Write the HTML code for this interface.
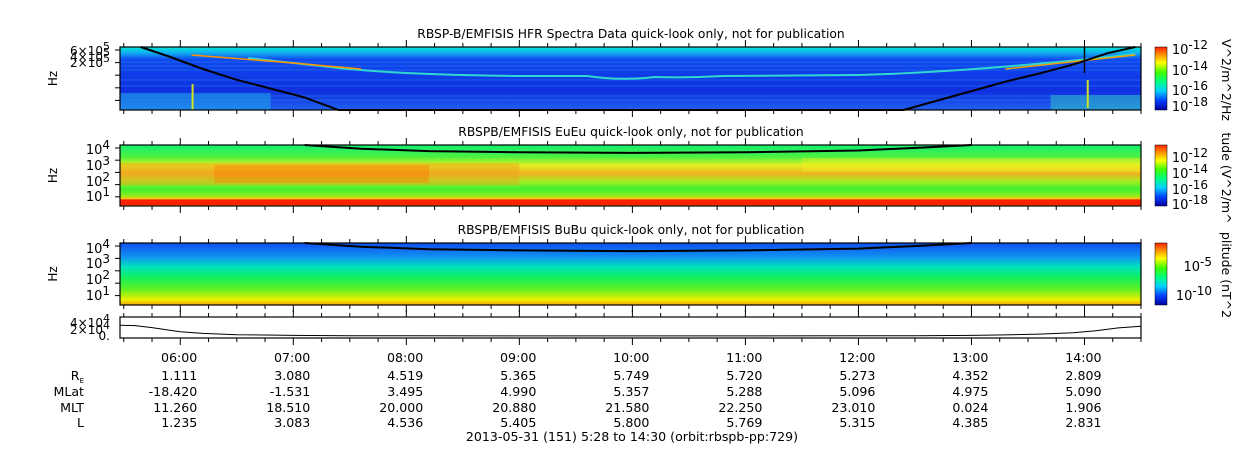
<!DOCTYPE html>
<html><head><meta charset="utf-8">
<style>
body{margin:0;background:#fff;}
svg{display:block;font-family:"DejaVu Sans","Liberation Sans",sans-serif;}
</style></head>
<body>
<svg id="c" width="1250" height="449" xmlns="http://www.w3.org/2000/svg">
<defs>
<linearGradient id="cmap" x1="0" y1="1" x2="0" y2="0">
<stop offset="0" stop-color="#0000a0"/><stop offset="0.15" stop-color="#0040ff"/><stop offset="0.3" stop-color="#00d0ff"/><stop offset="0.45" stop-color="#00ff80"/><stop offset="0.6" stop-color="#40ff00"/><stop offset="0.75" stop-color="#ffff00"/><stop offset="0.88" stop-color="#ff9000"/><stop offset="1" stop-color="#ff2000"/>
</linearGradient>
<linearGradient id="g1" x1="0" y1="0" x2="0" y2="1">
<stop offset="0" stop-color="#00e8d8"/><stop offset="0.09" stop-color="#10b0f0"/><stop offset="0.2" stop-color="#1048f0"/><stop offset="0.7" stop-color="#1030e0"/><stop offset="1" stop-color="#2060f0"/>
</linearGradient>
<linearGradient id="g2" x1="0" y1="0" x2="0" y2="1">
<stop offset="0" stop-color="#10f070"/><stop offset="0.2" stop-color="#50f040"/><stop offset="0.33" stop-color="#e0f020"/><stop offset="0.47" stop-color="#f0b020"/><stop offset="0.6" stop-color="#a0f020"/><stop offset="0.72" stop-color="#40f030"/><stop offset="0.82" stop-color="#80f020"/><stop offset="0.88" stop-color="#f0d010"/><stop offset="0.9" stop-color="#ff2000"/><stop offset="0.98" stop-color="#ff2000"/><stop offset="1" stop-color="#f0d010"/>
</linearGradient>
<linearGradient id="g3" x1="0" y1="0" x2="0" y2="1">
<stop offset="0" stop-color="#1050f0"/><stop offset="0.22" stop-color="#1090f0"/><stop offset="0.38" stop-color="#00e0c0"/><stop offset="0.55" stop-color="#10f060"/><stop offset="0.75" stop-color="#60f020"/><stop offset="0.92" stop-color="#f0f000"/><stop offset="1" stop-color="#f0a000"/>
</linearGradient>
</defs>
<g id="root"></g>
</svg>
<script>
const tStart = 5 + 28/60, tEnd = 14.5;
const tickHours = [6,7,8,9,10,11,12,13,14];
const tickLabels = ["06:00","07:00","08:00","09:00","10:00","11:00","12:00","13:00","14:00"];
const reVals = ["1.111","3.080","4.519","5.365","5.749","5.720","5.273","4.352","2.809"];
const mlatVals = ["-18.420","-1.531","3.495","4.990","5.357","5.288","5.096","4.975","5.090"];
const mltVals = ["11.260","18.510","20.000","20.880","21.580","22.250","23.010","0.024","1.906"];
const lVals = ["1.235","3.083","4.536","5.405","5.800","5.769","5.315","4.385","2.831"];
const lineHours = [5.47,5.6,5.75,5.9,6.0,6.2,6.5,7.0,7.5,8,9,10,11,12,12.5,13,13.3,13.6,13.9,14.1,14.3,14.5];
const lineVals  = [3.3,3.2,2.6,1.8,1.3,0.8,0.4,0.2,0.1,0.05,0.02,0.02,0.02,0.05,0.1,0.2,0.35,0.6,1.0,1.6,2.5,3.0];
const curve1Hours = [5.65,5.9,6.2,6.5,6.8,7.1,7.4,12.4,12.7,13.0,13.3,13.6,13.9,14.2,14.45];
const curve1Frac  = [0,0.15,0.35,0.52,0.66,0.8,1.0,1.0,0.85,0.7,0.55,0.42,0.28,0.1,0];
const curve2Hours = [7.1,7.6,8.2,9,10,11,12,12.6,13.0];
const curve2Frac  = [0,0.06,0.1,0.12,0.13,0.12,0.09,0.04,0];

const X0=120, X1=1141;
const xs = h => X0 + (h - tStart)/(tEnd - tStart)*(X1 - X0);
const root = document.getElementById('root');
const NS="http://www.w3.org/2000/svg";
function el(tag, attrs, parent){const e=document.createElementNS(NS,tag);for(const k in attrs)e.setAttribute(k,attrs[k]);(parent||root).appendChild(e);return e;}
function txt(x,y,s,anchor,size,parent){const t=el('text',{x:x,y:y,'font-size':size||11,'text-anchor':anchor||'start',fill:'#000'},parent);t.textContent=s;return t;}

const panels=[{y:47,h:63,f:'url(#g1)',title:'RBSP-B/EMFISIS  HFR Spectra Data quick-look only, not for publication'},
{y:145,h:61,f:'url(#g2)',title:'RBSPB/EMFISIS  EuEu quick-look only, not for publication'},
{y:243,h:62,f:'url(#g3)',title:'RBSPB/EMFISIS  BuBu quick-look only, not for publication'}];
panels.forEach((p,i)=>{
  const g=el('g',{});
  
  
  el('rect',{x:X0,y:p.y,width:X1-X0,height:p.h,fill:p.f},g);
  const t=txt(631,p.y-9,p.title,'middle',12.3,g);
  t.setAttribute('xml:space','preserve');
  
  
  const yl=txt(0,0,'Hz','middle',12,g);
  yl.setAttribute('transform','translate(57,'+(p.y+p.h/2)+') rotate(-90)');
  
  
  const cb=el('rect',{x:1155,y:p.y,width:12,height:p.h,fill:'url(#cmap)',stroke:'#000','stroke-width':0.5},g);
  
  
});
{
  const g=el('g',{});
  
  
  el('rect',{x:X0,y:93,width:xs(6.8)-X0,height:17,fill:'#20b0e8',opacity:0.5},g);
  el('rect',{x:xs(13.7),y:95,width:X1-xs(13.7),height:15,fill:'#30d0c0',opacity:0.5},g);
  [62,66,70,80,86,96,100].forEach(y=>el('line',{x1:X0,y1:y,x2:X1,y2:y,stroke:'#2090f0','stroke-width':0.8,opacity:0.6},g));
  el('path',{d:`M${xs(6.6)},58 L${xs(7.4)},68 Q${xs(8)},75 ${xs(9)},76 L${xs(9.6)},76 Q${xs(9.9)},81 ${xs(10.2)},77 Q${xs(10.5)},78 ${xs(10.8)},76 L${xs(12)},75 Q${xs(13)},72 ${xs(14.45)},54`,stroke:'#30d8d0','stroke-width':2,fill:'none'},g);
  el('path',{d:`M${xs(6.1)},55 L${xs(7.0)},63 L${xs(7.6)},69`,stroke:'#ff9000','stroke-width':1.5,fill:'none'},g);
  el('path',{d:`M${xs(13.3)},69 L${xs(14.45)},55`,stroke:'#f0a000','stroke-width':1.5,fill:'none'},g);
  el('rect',{x:xs(6.1),y:84,width:2,height:26,fill:'#d0e020'},g);
  el('rect',{x:xs(14.02),y:80,width:2,height:28,fill:'#d0e020'},g);
  el('line',{x1:xs(14.0),y1:47,x2:xs(14.0),y2:73,stroke:'#000','stroke-width':1.5},g);
}
{
  const g=el('g',{});
  
  
  el('rect',{x:X0,y:163,width:xs(9.0)-X0,height:22,fill:'#f0a020',opacity:0.45},g);
  el('rect',{x:xs(6.3),y:165,width:xs(8.2)-xs(6.3),height:18,fill:'#ff7000',opacity:0.35},g);
  el('rect',{x:xs(11.5),y:158,width:X1-xs(11.5),height:14,fill:'#f0f020',opacity:0.4},g);
}
function drawCurve(hours,frac,py,ph,name){
  let d='';hours.forEach((h,i)=>{d+=(i?'L':'M')+xs(h).toFixed(1)+','+(py+frac[i]*ph).toFixed(1);});
  const p=el('path',{d:d,stroke:'#000','stroke-width':2,fill:'none'});
  
  
}
drawCurve(curve1Hours,curve1Frac,47,63,'fce-curve-hfr');
drawCurve(curve2Hours,curve2Frac,145,61,'fce-curve-eueu');
drawCurve(curve2Hours,curve2Frac,243,62,'fce-curve-bubu');
[[47,63],[145,61],[243,62],[317,21]].forEach(([y,h],i)=>{
  el('rect',{x:X0,y:y,width:X1-X0,height:h,fill:'none',stroke:'#000','stroke-width':1.2});
  for(let m=0;m<=(tEnd-tStart)*60;m++){const hh=tStart+m/60;const mm=Math.round(hh*60)%60;if(mm%15)continue;
    const x=xs(hh);const L=(mm===0)?7:4;
    el('line',{x1:x,y1:y+h,x2:x,y2:y+h+L,stroke:'#000'});el('line',{x1:x,y1:y,x2:x,y2:y-L,stroke:'#000'});}
});
function sup(x,y,base,exp,size){const t=txt(x,y,'','end',size||12);const a=el('tspan',{},t);a.textContent=base;const b=el('tspan',{dy:-5,'font-size':(size||12)-1},t);b.textContent=exp;return t;}
[[51,'6×10','5'],[57,'4×10','5'],[63,'2×10','5']].forEach(a=>sup(110,a[0]+4,a[1],a[2],12));
[[150,'10','4'],[166,'10','3'],[182,'10','2'],[197,'10','1']].forEach(a=>sup(110,a[0]+4,a[1],a[2],13));
[[249,'10','4'],[264,'10','3'],[280,'10','2'],[296,'10','1']].forEach(a=>sup(110,a[0]+4,a[1],a[2],13));
[[323,'4×10','4'],[330,'2×10','4']].forEach(a=>sup(110,a[0]+4,a[1],a[2],12));
txt(110,340,'0.','end',12);
[[47,63],[145,61],[243,62]].forEach(([y,h])=>{for(let k=0;k<5;k++)el('line',{x1:X0-5,y1:y+3+k*h/5,x2:X0,y2:y+3+k*h/5,stroke:'#000'});});
[[49,'-12'],[70,'-14'],[90,'-16'],[106,'-18']].forEach(a=>sup(1208,a[0]+5,'10',a[1],13));
[[157,'-12'],[173,'-14'],[189,'-16'],[204,'-18']].forEach(a=>sup(1208,a[0]+5,'10',a[1],13));
[[266,'-5'],[295,'-10']].forEach(a=>sup(1212,a[0]+5,'10',a[1],13));
[[80,'V^2/m^2/Hz'],[178,'tude (V^2/m^'],[275,'plitude (nT^2']].forEach(a=>{const t=txt(0,0,a[1],'middle',12.5);t.setAttribute('transform','translate(1222,'+a[0]+') rotate(90)');});
{
  const ys=v=>336-v/4*13;
  let d='';lineHours.forEach((h,i)=>{d+=(i?'L':'M')+xs(h).toFixed(1)+','+ys(lineVals[i]).toFixed(1);});
  const p=el('path',{d:d,stroke:'#000','stroke-width':1,fill:'none'});
  
  
}
const rowsY=[376,392,408,423];
const rowVals=[reVals,mlatVals,mltVals,lVals];
tickHours.forEach((h,i)=>{
  const x=xs(h)+17;
  const t=txt(x,362,tickLabels[i],'end',12.6);
  
  
  rowVals.forEach((arr,r)=>txt(x,rowsY[r]+4,arr[i],'end',12.6));
});
const re=txt(84,380,'R','end',12.6);const sb=el('tspan',{'font-size':7,dy:3},re);sb.textContent='E';
txt(84,396,'MLat','end',12.6);txt(84,412,'MLT','end',12.6);txt(84,427,'L','end',12.6);
const cap=txt(632,441,'2013-05-31 (151) 5:28 to 14:30 (orbit:rbspb-pp:729)','middle',12.6);


</script>
</body></html>
